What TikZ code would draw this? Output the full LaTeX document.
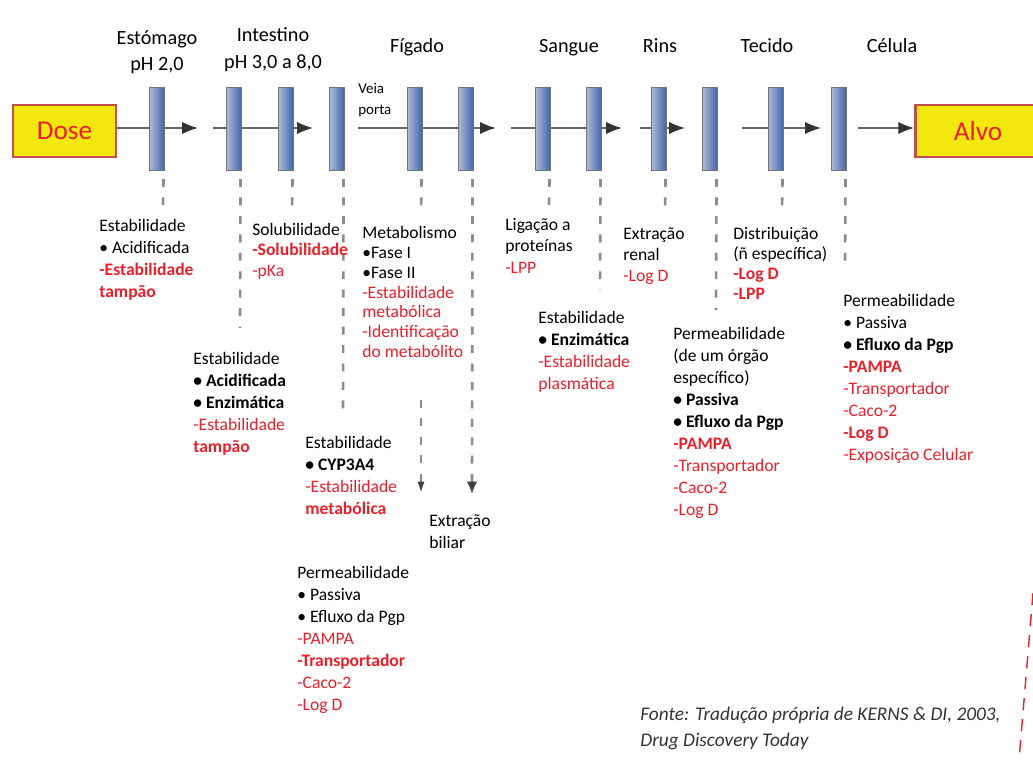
\documentclass[tikz,border=0pt]{standalone}
\usepackage{fontspec}
\setmainfont{Carlito}
\usetikzlibrary{arrows.meta,calc}
\definecolor{rouge}{HTML}{E8202A}
\definecolor{jaune}{HTML}{F3E80E}
\definecolor{bordure}{HTML}{C0504D}
\definecolor{bleu}{HTML}{3F63AC}
\definecolor{bleuclair}{HTML}{AEBAD4}
\newcommand{\enrouge}[1]{\textcolor{rouge}{#1}}
\newcommand{\engras}[1]{\textcolor{rouge}{\bfseries #1}}
\begin{document}
\begin{tikzpicture}[x=0.02cm,y=-0.02cm]
% Styles
\tikzstyle{boite}=[draw=bordure,line width=1.6pt,fill=jaune,minimum height=1.04cm,inner sep=0pt,text=rouge,font=\fontsize{15.5}{18}\selectfont]
\tikzstyle{membrane}=[draw=black!55,line width=0.6pt,left color=bleuclair,right color=bleu,minimum width=0.3cm,minimum height=1.66cm,inner sep=0pt]
\tikzstyle{ligne}=[draw=black!60,line width=1.1pt]
\tikzstyle{fleche}=[ligne,-{Latex[length=9pt,width=7pt,color=black!80]}]
\tikzstyle{pointille}=[draw=black!45,line width=1.5pt,dash pattern=on 4.5pt off 6pt]
\tikzstyle{titre}=[inner sep=0pt,align=center,font=\fontsize{11.5}{15.2}\selectfont]
\tikzstyle{texte}=[anchor=north west,inner sep=0pt,align=left,font=\fontsize{10}{12.5}\selectfont]
% Cadre
\clip (0,0) rectangle (1033,760);
% Boites
\node[boite,minimum width=2.06cm] (dose) at (64.5,131) {Dose};
\node[boite,minimum width=2.5cm] (alvo) at (978,131) {Alvo};
% Axe
\coordinate (f1) at (198,128);
\coordinate (s2) at (213,128);
\coordinate (f2) at (313,128);
\coordinate (s3) at (358,128);
\coordinate (f3) at (496,128);
\coordinate (s4) at (511,128);
\coordinate (f4) at (622,128);
\coordinate (s5) at (640,128);
\coordinate (f5) at (685,128);
\coordinate (s6) at (742,128);
\coordinate (f6) at (821,128);
\coordinate (s7) at (858,128);
\draw[fleche] (dose.east |- f1)--(f1);
\draw[fleche] (s2)--(f2);
\draw[fleche] (s3)--(f3);
\draw[fleche] (s4)--(f4);
\draw[fleche] (s5)--(f5);
\draw[fleche] (s6)--(f6);
\draw[fleche] (s7)--(alvo.west |- s7);
% Membranes
\node[membrane] (m1) at (157,129) {};
\node[membrane] (m2) at (234,129) {};
\node[membrane] (m3) at (286,129) {};
\node[membrane] (m4) at (337,129) {};
\node[membrane] (m5) at (415,129) {};
\node[membrane] (m6) at (466,129) {};
\node[membrane] (m7) at (543,129) {};
\node[membrane] (m8) at (594,129) {};
\node[membrane] (m9) at (659,129) {};
\node[membrane] (m10) at (710,129) {};
\node[membrane] (m11) at (776,129) {};
\node[membrane] (m12) at (839,129) {};
% Pointilles
\coordinate (b1) at (163,205);
\coordinate (b2) at (240,328);
\coordinate (b3) at (292,212);
\coordinate (b4) at (343,415);
\coordinate (b5) at (421,212);
\coordinate (h5) at (421,400);
\coordinate (p5) at (421,494);
\coordinate (b6) at (472,494);
\coordinate (b7) at (549,205);
\coordinate (b8) at (600,290);
\coordinate (b9) at (665,210);
\coordinate (b10) at (716,310);
\coordinate (b11) at (782,210);
\coordinate (b12) at (845,268);
\draw[pointille] ($(m1.south east)+(-1.5,8)$)--(b1);
\draw[pointille] ($(m2.south east)+(-1.5,8)$)--(b2);
\draw[pointille] ($(m3.south east)+(-1.5,8)$)--(b3);
\draw[pointille] ($(m4.south east)+(-1.5,8)$)--(b4);
\draw[pointille] ($(m5.south east)+(-1.5,8)$)--(b5);
\draw[pointille,-{Latex[length=7pt,width=4pt,color=black!75]}] (h5)--(p5);
\draw[pointille,-{Latex[length=7pt,width=6pt,color=black!75]}] ($(m6.south east)+(-1.5,8)$)--(b6);
\draw[pointille] ($(m7.south east)+(-1.5,8)$)--(b7);
\draw[pointille] ($(m8.south east)+(-1.5,8)$)--(b8);
\draw[pointille] ($(m9.south east)+(-1.5,8)$)--(b9);
\draw[pointille] ($(m10.south east)+(-1.5,8)$)--(b10);
\draw[pointille] ($(m11.south east)+(-1.5,8)$)--(b11);
\draw[pointille] ($(m12.south east)+(-1.5,8)$)--(b12);
% Titres
\node[titre,anchor=north] (estomago) at (157,30) {Estómago\\pH 2,0};
\node[titre,anchor=north] (intestino) at (273,27) {Intestino\\pH 3,0 a 8,0};
\node[titre,anchor=base] (figado) at (417,53) {Fígado};
\node[titre,anchor=base] (sangue) at (569,53) {Sangue};
\node[titre,anchor=base] (rins) at (660,53) {Rins};
\node[titre,anchor=base] (tecido) at (767,53) {Tecido};
\node[titre,anchor=base] (celula) at (892,53) {Célula};
\node[texte,font=\fontsize{8.5}{12}\selectfont] (veia) at (358,83) {Veia\\porta};
% Textes
\node[texte] (estab1) at (99,219) {Estabilidade\\• Acidificada\\\engras{-Estabilidade}\\\engras{tampão}};
\node[texte,font=\fontsize{10}{11.6}\selectfont] (solub) at (252,223) {Solubilidade\\\engras{-Solubilidade}\\\enrouge{-pKa}};
\node[texte,font=\fontsize{10}{11.3}\selectfont] (metab) at (362,226) {Metabolismo\\•Fase I\\•Fase II\\\enrouge{-Estabilidade}\\\enrouge{metabólica}\\\enrouge{-Identificação}\\\enrouge{do metabólito}};
\node[texte] (estab2) at (193,352) {Estabilidade\\\textbf{• Acidificada}\\\textbf{• Enzimática}\\\enrouge{-Estabilidade}\\\engras{tampão}};
\node[texte] (estab3) at (305,436) {Estabilidade\\\textbf{• CYP3A4}\\\enrouge{-Estabilidade}\\\engras{metabólica}};
\node[texte] (perm1) at (297,566) {Permeabilidade\\• Passiva\\• Efluxo da Pgp\\\enrouge{-PAMPA}\\\engras{-Transportador}\\\enrouge{-Caco-2}\\\enrouge{-Log D}};
\node[texte] (biliar) at (429,514) {Extração\\biliar};
\node[texte,font=\fontsize{10}{12.2}\selectfont] (ligacao) at (505,218) {Ligação a\\proteínas\\\enrouge{-LPP}};
\node[texte] (estab4) at (538,311) {Estabilidade\\\textbf{• Enzimática}\\\enrouge{-Estabilidade}\\\enrouge{plasmática}};
\node[texte,font=\fontsize{10}{12.2}\selectfont] (renal) at (623,227) {Extração\\renal\\\enrouge{-Log D}};
\node[texte,font=\fontsize{10}{11.3}\selectfont] (distrib) at (733,227) {Distribuição\\(ñ específica)\\\engras{-Log D}\\\engras{-LPP}};
\node[texte] (perm2) at (673,327) {Permeabilidade\\(de um órgão\\específico)\\\textbf{• Passiva}\\\textbf{• Efluxo da Pgp}\\\engras{-PAMPA}\\\enrouge{-Transportador}\\\enrouge{-Caco-2}\\\enrouge{-Log D}};
\node[texte] (perm3) at (843,294) {Permeabilidade\\• Passiva\\\textbf{• Efluxo da Pgp}\\\engras{-PAMPA}\\\enrouge{-Transportador}\\\enrouge{-Caco-2}\\\engras{-Log D}\\\enrouge{-Exposição Celular}};
% Fonte
\node[texte,font=\fontsize{11}{14.7}\selectfont\itshape,text=black!80] (fonte) at (640,707) {Fonte: Tradução própria de KERNS \& DI, 2003,\\Drug Discovery Today};
\coordinate (r1) at (1033,593);
\coordinate (r2) at (1019,760);
\draw[rouge,line width=0.8pt,dash pattern=on 7pt off 5pt] (r1)--(r2);
\end{tikzpicture}
\end{document}
